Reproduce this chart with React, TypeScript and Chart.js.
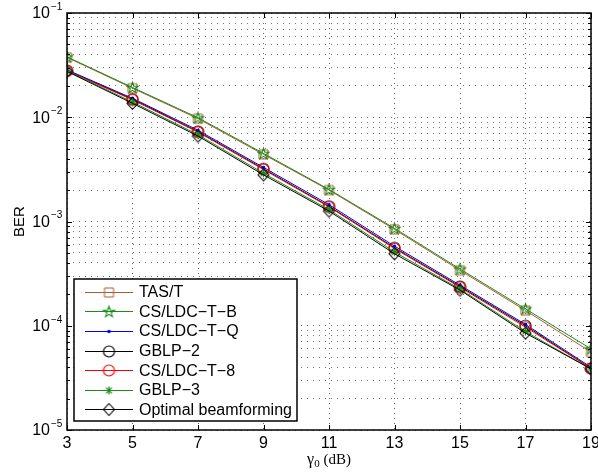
import React, { useEffect, useRef } from 'react';
import { Chart, registerables } from 'chart.js';

Chart.register(...registerables);

// ---------- data ----------
const snrDb = [3, 5, 7, 9, 11, 13, 15, 17, 19];
const xTickLabels = ['3', '5', '7', '9', '11', '13', '15', '17', '19'];
const yDecades = [-5, -4, -3, -2, -1];
const minorMultipliers = [1, 2, 3, 4, 5, 6, 7, 8, 9];

const tasT = [0.0375, 0.019, 0.0097, 0.0044, 0.002, 0.00084, 0.00034, 0.00014, 0.000056];
const csLdcTB = [0.038, 0.0193, 0.0099, 0.0045, 0.00203, 0.00086, 0.00035, 0.000145, 0.00006];
const csLdcTQ = [0.0285, 0.0152, 0.0075, 0.0033, 0.00145, 0.00058, 0.000245, 0.000103, 0.00004];
const gblp2 = [0.028, 0.0149, 0.0073, 0.0032, 0.0014, 0.00056, 0.000238, 0.0001, 0.000039];
const csLdcT8 = [0.0279, 0.0147, 0.0072, 0.00315, 0.00138, 0.00055, 0.000234, 0.000097, 0.000039];
const gblp3 = [0.0278, 0.014, 0.0068, 0.0029, 0.0013, 0.00051, 0.000225, 0.000088, 0.0000385];
const optimalBf = [0.0275, 0.0136, 0.0066, 0.0028, 0.00126, 0.00049, 0.00022, 0.000085, 0.0000385];

const seriesNames = ['TAS/T', 'CS/LDC\u2212T\u2212B', 'CS/LDC\u2212T\u2212Q', 'GBLP\u22122', 'CS/LDC\u2212T\u22128', 'GBLP\u22123', 'Optimal beamforming'];
const seriesValues = [tasT, csLdcTB, csLdcTQ, gblp2, csLdcT8, gblp3, optimalBf];
const seriesColors = ['#b05a32', '#1a8c1a', '#0000ff', '#000000', '#ff0000', '#1a8c1a', '#000000'];
const seriesMarkers = ['square', 'pentagram', 'dot', 'circle', 'circle', 'asterisk', 'diamond'];

const SANS = '"Liberation Sans", Arial, Helvetica, sans-serif';
const SERIF = '"Liberation Serif", "Times New Roman", serif';

function makeMarker(kind: string, color: string): HTMLCanvasElement {
  const size = 17;
  const c = document.createElement('canvas');
  c.width = size;
  c.height = size;
  const g = c.getContext('2d')!;
  const m = size / 2;
  g.strokeStyle = color;
  g.fillStyle = color;
  g.lineWidth = 1;
  g.beginPath();
  if (kind === 'square') {
    g.rect(m - 4.5, m - 4.5, 9, 9);
    g.stroke();
  } else if (kind === 'pentagram') {
    const R = 5.8, r = 2.3;
    for (let i = 0; i < 10; i++) {
      const ang = -Math.PI / 2 + (i * Math.PI) / 5;
      const rad = i % 2 === 0 ? R : r;
      const px = m + rad * Math.cos(ang);
      const py = m + 0.5 + rad * Math.sin(ang);
      if (i === 0) g.moveTo(px, py); else g.lineTo(px, py);
    }
    g.closePath();
    g.lineWidth = 1.1;
    g.stroke();
  } else if (kind === 'dot') {
    g.arc(m, m, 1.8, 0, Math.PI * 2);
    g.fill();
  } else if (kind === 'circle') {
    g.arc(m, m, 5.5, 0, Math.PI * 2);
    g.lineWidth = 1.2;
    g.stroke();
  } else if (kind === 'asterisk') {
    const r = 4;
    g.moveTo(m - r, m); g.lineTo(m + r, m);
    g.moveTo(m, m - r); g.lineTo(m, m + r);
    const d = r * 0.72;
    g.moveTo(m - d, m - d); g.lineTo(m + d, m + d);
    g.moveTo(m - d, m + d); g.lineTo(m + d, m - d);
    g.lineWidth = 1.2;
    g.stroke();
  } else if (kind === 'diamond') {
    g.moveTo(m, m - 6); g.lineTo(m + 5.5, m); g.lineTo(m, m + 6); g.lineTo(m - 5.5, m);
    g.closePath();
    g.lineWidth = 1.1;
    g.stroke();
  }
  return c;
}

const framePlugin = {
  id: 'matlabFrame',
  afterDraw(chart: any) {
    const { ctx, chartArea: a, scales } = chart;
    const xs = scales.x;
    const ys = scales.y;
    ctx.save();
    ctx.strokeStyle = '#000';
    ctx.lineWidth = 1.5;
    const L = Math.round(a.left), R = Math.round(a.right), T = Math.round(a.top), B = Math.round(a.bottom);
    ctx.strokeRect(L, T, R - L, B - T);
    ctx.lineWidth = 1;
    ctx.beginPath();
    for (const v of snrDb) {
      const px = Math.round(xs.getPixelForValue(v)) + 0.5;
      ctx.moveTo(px, B); ctx.lineTo(px, B - 5);
      ctx.moveTo(px, T); ctx.lineTo(px, T + 5);
    }
    for (const e of yDecades) {
      for (const mm of minorMultipliers) {
        if (e === -1 && mm > 1) break;
        const py = Math.round(ys.getPixelForValue(mm * Math.pow(10, e))) + 0.5;
        const len = mm === 1 ? 5 : 3;
        ctx.moveTo(L, py); ctx.lineTo(L + len, py);
        ctx.moveTo(R, py); ctx.lineTo(R - len, py);
      }
    }
    ctx.stroke();

    // x tick labels
    ctx.fillStyle = '#000';
    ctx.font = `16px ${SANS}`;
    ctx.textAlign = 'center';
    ctx.textBaseline = 'middle';
    snrDb.forEach((v, i) => {
      ctx.fillText(xTickLabels[i], xs.getPixelForValue(v), B + 14);
    });

    // y tick labels 10^e
    for (const e of yDecades) {
      const py = ys.getPixelForValue(Math.pow(10, e));
      ctx.font = `16px ${SANS}`;
      ctx.textAlign = 'right';
      ctx.textBaseline = 'middle';
      ctx.fillText('10', L - 17, py + 1);
      ctx.font = `10px ${SANS}`;
      ctx.textAlign = 'left';
      ctx.fillText('\u2212' + String(-e), L - 16, py - 6);
    }

    // y title
    ctx.save();
    ctx.translate(20, (T + B) / 2);
    ctx.rotate(-Math.PI / 2);
    ctx.font = `15px ${SANS}`;
    ctx.textAlign = 'center';
    ctx.textBaseline = 'middle';
    ctx.fillText('BER', 0, 0);
    ctx.restore();

    // x title: gamma_0 (dB)
    {
      const cx = (L + R) / 2;
      const base = 464;
      ctx.textAlign = 'left';
      ctx.textBaseline = 'alphabetic';
      ctx.font = `16px ${SERIF}`;
      const wG = ctx.measureText('\u03b3').width;
      ctx.font = `11px ${SERIF}`;
      const w0 = ctx.measureText('0').width;
      ctx.font = `15px ${SERIF}`;
      const wD = ctx.measureText(' (dB)').width;
      let x0 = cx - (wG + w0 + wD) / 2;
      ctx.font = `16px ${SERIF}`;
      ctx.fillText('\u03b3', x0, base);
      x0 += wG;
      ctx.font = `11px ${SERIF}`;
      ctx.fillText('0', x0, base + 3);
      x0 += w0;
      ctx.font = `15px ${SERIF}`;
      ctx.fillText(' (dB)', x0, base);
    }

    // legend
    const lx = 74, ly = 279, lw = 223, lh = 142;
    ctx.fillStyle = '#fff';
    ctx.fillRect(lx, ly, lw, lh);
    ctx.strokeStyle = '#000';
    ctx.lineWidth = 1.5;
    ctx.strokeRect(lx, ly, lw, lh);
    seriesNames.forEach((name, i) => {
      const yy = ly + 12.7 + i * 19.6;
      ctx.strokeStyle = seriesColors[i];
      ctx.lineWidth = 1;
      ctx.beginPath();
      ctx.moveTo(85, Math.round(yy) + 0.5);
      ctx.lineTo(133, Math.round(yy) + 0.5);
      ctx.stroke();
      const mk = markerImages[i];
      ctx.drawImage(mk, 109 - mk.width / 2, Math.round(yy) + 0.5 - mk.height / 2);
      ctx.fillStyle = '#000';
      ctx.font = `16px ${SANS}`;
      ctx.textAlign = 'left';
      ctx.textBaseline = 'middle';
      ctx.fillText(name, 139, yy + 1);
    });
    ctx.restore();
  },
};

let markerImages: HTMLCanvasElement[] = [];

export default function App() {
  const ref = useRef<HTMLCanvasElement | null>(null);
  useEffect(() => {
    if (!ref.current) return;
    markerImages = seriesMarkers.map((k, i) => makeMarker(k, seriesColors[i]));
    const gridValues: number[] = [];
    for (const e of yDecades) {
      for (const mm of minorMultipliers) {
        if (e === -1 && mm > 1) break;
        gridValues.push(mm * Math.pow(10, e));
      }
    }
    const chart = new Chart(ref.current, {
      type: 'line',
      data: {
        datasets: seriesNames.map((name, i) => ({
          label: name,
          data: snrDb.map((x, j) => ({ x, y: seriesValues[i][j] })),
          borderColor: seriesColors[i],
          backgroundColor: seriesColors[i],
          borderWidth: 1,
          pointStyle: markerImages[i],
          pointRadius: 5,
          tension: 0,
          fill: false,
          order: -i,
        })),
      },
      options: {
        responsive: false,
        animation: false,
        events: [],
        layout: { padding: { left: 67, right: 7, top: 13, bottom: 43 } },
        plugins: { legend: { display: false }, tooltip: { enabled: false }, title: { display: false } },
        scales: {
          x: {
            type: 'linear',
            min: 3,
            max: 19,
            afterBuildTicks: (scale: any) => {
              scale.ticks = snrDb.map((v) => ({ value: v }));
            },
            ticks: { display: false },
            grid: { color: 'rgba(0,0,0,0.6)', lineWidth: 1, drawTicks: false },
            border: { display: false, dash: [1, 4] },
          },
          y: {
            type: 'logarithmic',
            min: 1e-5,
            max: 1e-1,
            afterBuildTicks: (scale: any) => {
              scale.ticks = gridValues.map((v) => ({ value: v }));
            },
            ticks: { display: false },
            grid: { color: 'rgba(0,0,0,0.55)', lineWidth: 1, drawTicks: false },
            border: { display: false, dash: [1, 5] },
          },
        },
      },
      plugins: [framePlugin],
    } as any);
    return () => chart.destroy();
  }, []);
  return (
    <div style={{ position: 'absolute', left: 0, top: 0, width: 598, height: 473, background: '#fff' }}>
      <canvas ref={ref} width={598} height={473} style={{ width: 598, height: 473, display: 'block' }} />
    </div>
  );
}
